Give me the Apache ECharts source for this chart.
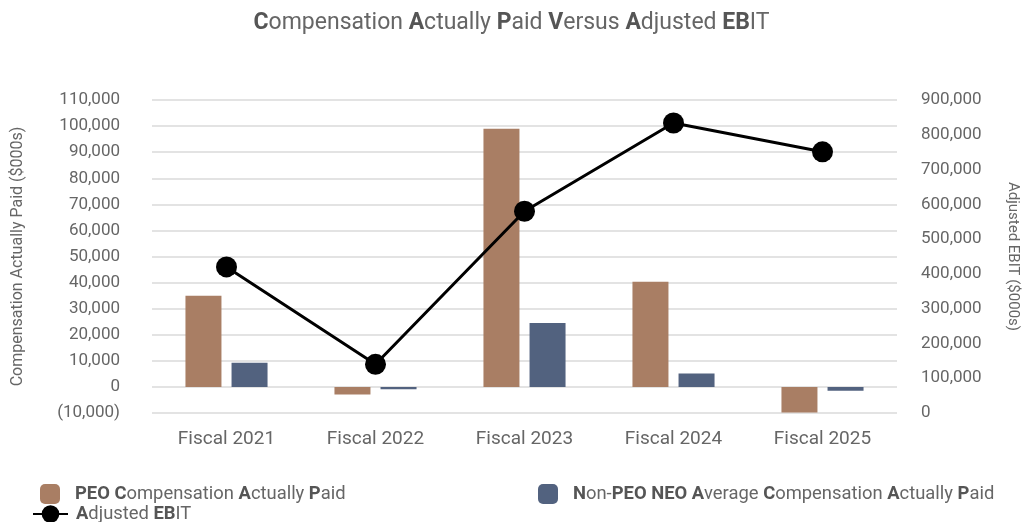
<!DOCTYPE html>
<html>
<head>
<meta charset="utf-8">
<script src="https://cdn.jsdelivr.net/npm/echarts@6/dist/echarts.min.js"></script>
<style>html,body{margin:0;padding:0;background:#fff;}#c{width:1023px;height:522px;}</style>
</head>
<body>
<div id="c"></div>
<script>
const categories = ['Fiscal 2021', 'Fiscal 2022', 'Fiscal 2023', 'Fiscal 2024', 'Fiscal 2025'];
const peoCAP = [35000, -2900, 99000, 40300, -9800];
const neoCAP = [9300, -900, 24500, 5100, -1500];
const adjustedEBIT = [420000, 140000, 580000, 834000, 751000];
const seriesNames = ['PEO Compensation Actually Paid', 'Non-PEO NEO Average Compensation Actually Paid', 'Adjusted EBIT'];

const FONT = 'Roboto, "Liberation Sans", sans-serif';
const GREY = '#666';
const rich = { b: { fontWeight: 'bold', color: '#555', fontSize: 18.4, fontFamily: FONT } };
const richLegend = {
  'PEO Compensation Actually Paid': '{b|PEO C}ompensation {b|A}ctually {b|P}aid',
  'Non-PEO NEO Average Compensation Actually Paid': '{b|N}on-{b|PEO NEO A}verage {b|C}ompensation {b|A}ctually {b|P}aid',
  'Adjusted EBIT': '{b|A}djusted {b|EB}IT'
};
function fmt(v) {
  const s = Math.abs(v).toLocaleString('en-US');
  return v < 0 ? '(' + s + ')' : s;
}
function legend(name, left, top, iw, ih, pad) {
  return {
    data: [name], left: left, top: top, itemWidth: iw, itemHeight: ih,
    formatter: n => richLegend[n],
    textStyle: { fontSize: 18.4, color: GREY, fontFamily: FONT, padding: [0, 0, 0, pad], rich: rich }
  };
}
const chart = echarts.init(document.getElementById('c'));
chart.setOption({
  animation: false,
  textStyle: { fontFamily: FONT },
  title: {
    text: '{b|C}ompensation {b|A}ctually {b|P}aid {b|V}ersus {b|A}djusted {b|EB}IT',
    left: 'center', top: 7,
    textStyle: { fontSize: 23, fontWeight: 'normal', color: GREY, fontFamily: FONT,
      rich: { b: { fontWeight: 'bold', fontSize: 23, color: '#555', fontFamily: FONT } } }
  },
  legend: [
    legend(seriesNames[0], 35, 479, 20, 20, 10),
    legend(seriesNames[1], 533, 479, 20, 20, 10),
    legend(seriesNames[2], 27, 500, 35, 22, 3)
  ],
  grid: { left: 152, right: 126, top: 100, bottom: 109, outerBoundsMode: 'none', containLabel: false },
  xAxis: {
    type: 'category', data: categories,
    axisLine: { show: false }, axisTick: { show: false },
    axisLabel: { fontSize: 19, color: GREY, margin: 17, fontFamily: FONT }
  },
  yAxis: [
    {
      type: 'value', min: -10000, max: 110000, interval: 10000,
      name: 'Compensation Actually Paid ($000s)', nameLocation: 'middle', nameGap: 126, nameRotate: 90,
      nameTextStyle: { fontSize: 16, color: GREY, fontFamily: FONT },
      axisLine: { show: false }, axisTick: { show: false },
      axisLabel: { fontSize: 17, color: GREY, margin: 32, formatter: fmt, fontFamily: FONT },
      splitLine: { lineStyle: { color: '#e3e3e3', width: 2 } }
    },
    {
      type: 'value', min: 0, max: 900000, interval: 100000, position: 'right',
      name: 'Adjusted EBIT ($000s)', nameLocation: 'middle', nameGap: 108, nameRotate: -90,
      nameTextStyle: { fontSize: 15, color: GREY, fontFamily: FONT },
      axisLine: { show: false }, axisTick: { show: false },
      axisLabel: { fontSize: 17, color: GREY, margin: 24, formatter: fmt, fontFamily: FONT },
      splitLine: { show: false }
    }
  ],
  series: [
    { name: seriesNames[0], type: 'bar', data: peoCAP, barWidth: 36, barGap: '28%',
      itemStyle: { color: '#a97e64' } },
    { name: seriesNames[1], type: 'bar', data: neoCAP, barWidth: 36,
      itemStyle: { color: '#52627f' } },
    { name: seriesNames[2], type: 'line', yAxisIndex: 1, data: adjustedEBIT, z: 5,
      symbol: 'circle', symbolSize: 21,
      lineStyle: { color: '#000', width: 3 }, itemStyle: { color: '#000' } }
  ]
});
</script>
</body>
</html>
